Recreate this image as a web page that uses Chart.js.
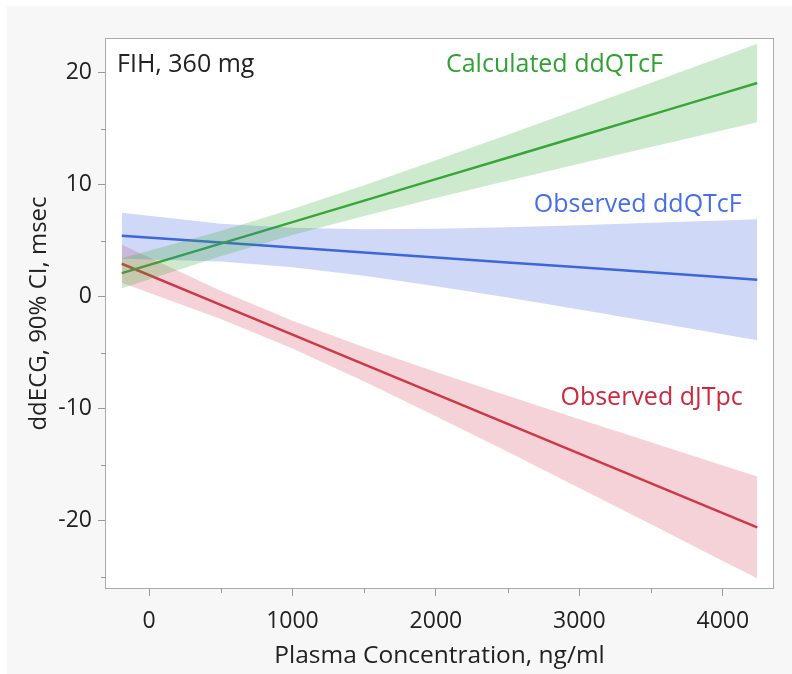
<!DOCTYPE html>
<html>
<head>
<meta charset="utf-8">
<script src="https://cdn.jsdelivr.net/npm/chart.js@4.4.1/dist/chart.umd.min.js"></script>
<style>
  html, body { margin: 0; padding: 0; background: #ffffff; }
  #wrap { position: absolute; left: 0; top: 0; width: 792px; height: 674px; }
</style>
</head>
<body>
<div id="wrap"><canvas id="c" width="792" height="674"></canvas></div>
<script>
// ---- data ----
const conc = [-190, 500, 1000, 1500, 2000, 2500, 3000, 3500, 4000, 4240];

const calcQTcF      = [2.10, 4.74, 6.66, 8.57, 10.49, 12.40, 14.32, 16.23, 18.15, 19.07];
const calcQTcFUpper = [3.44, 5.86, 7.82, 9.94, 12.17, 14.45, 16.77, 19.09, 21.44, 22.57];
const calcQTcFLower = [0.76, 3.62, 5.50, 7.20, 8.81, 10.35, 11.87, 13.37, 14.86, 15.57];

const obsQTcF      = [5.44, 4.83, 4.39, 3.95, 3.50, 3.06, 2.62, 2.18, 1.73, 1.52];
const obsQTcFUpper = [7.49, 6.52, 6.15, 6.03, 6.07, 6.20, 6.38, 6.59, 6.81, 6.92];
const obsQTcFLower = [3.39, 3.14, 2.63, 1.87, 0.93, -0.08, -1.14, -2.23, -3.35, -3.88];

const obsJTpc      = [2.94, -0.73, -3.38, -6.04, -8.70, -11.35, -14.01, -16.66, -19.32, -20.59];
const obsJTpcUpper = [4.64, 0.52, -2.14, -4.52, -6.73, -8.85, -10.94, -13.00, -15.06, -16.04];
const obsJTpcLower = [1.24, -1.98, -4.62, -7.56, -10.67, -13.85, -17.08, -20.32, -23.58, -25.14];

const xMajorTicks = [0, 1000, 2000, 3000, 4000];
const xMinorTicks = [500, 1500, 2500, 3500];
const yMajorTicks = [-20, -10, 0, 10, 20];
const yMinorTicks = [-25, -15, -5, 5, 15];

const labelTexts = ['FIH, 360 mg', 'Calculated ddQTcF', 'Observed ddQTcF', 'Observed dJTpc'];
const labelX     = [-223, 3582, 4132, 4139];
const labelY     = [20.05, 20.05, 7.58, -9.71];
const labelAlign = ['left', 'right', 'right', 'right'];
const labelColor = ['#222222', 'rgb(50,160,50)', 'rgb(70,110,235)', 'rgb(205,40,60)'];

const xTitle = 'Plasma Concentration, ng/ml';
const yTitle = 'ddECG, 90% CI, msec';

// ---- helpers ----
const pts = (ys) => conc.map((x, i) => ({ x: x, y: ys[i] }));
const FONT = '"Open Sans", "Noto Sans", sans-serif';

function band(upper, lower, color) {
  return [
    { data: pts(upper), borderWidth: 0, pointRadius: 0, fill: '+1', backgroundColor: color, borderColor: 'transparent', tension: 0 },
    { data: pts(lower), borderWidth: 0, pointRadius: 0, fill: false, borderColor: 'transparent', tension: 0 }
  ];
}
function line(vals, color) {
  return { data: pts(vals), borderWidth: 2.5, pointRadius: 0, fill: false, borderColor: color, tension: 0 };
}

const bgPlugin = {
  id: 'bg',
  beforeDraw(chart) {
    const ctx = chart.ctx, a = chart.chartArea;
    ctx.save();
    ctx.fillStyle = '#ffffff';
    ctx.fillRect(0, 0, chart.width, chart.height);
    ctx.fillStyle = '#f7f7f7';
    ctx.fillRect(7, 6, chart.width - 7, chart.height - 6);
    ctx.fillStyle = '#ffffff';
    ctx.fillRect(a.left, a.top, a.right - a.left, a.bottom - a.top);
    ctx.restore();
  },
  afterDraw(chart) {
    const ctx = chart.ctx, a = chart.chartArea;
    const xs = chart.scales.x, ys = chart.scales.y;
    ctx.save();
    ctx.strokeStyle = '#aaaaaa';
    ctx.lineWidth = 1;
    ctx.strokeRect(Math.round(a.left) - 0.5, Math.round(a.top) - 0.5,
                   Math.round(a.right - a.left) + 1, Math.round(a.bottom - a.top) + 1);
    ctx.strokeStyle = '#999999';
    ctx.beginPath();
    xMinorTicks.forEach(v => {
      const px = Math.round(xs.getPixelForValue(v)) + 0.5;
      ctx.moveTo(px, a.bottom); ctx.lineTo(px, a.bottom + 5);
    });
    yMinorTicks.forEach(v => {
      const py = Math.round(ys.getPixelForValue(v)) + 0.5;
      ctx.moveTo(a.left, py); ctx.lineTo(a.left - 5, py);
    });
    ctx.stroke();
    ctx.restore();
  }
};

const labelPlugin = {
  id: 'labels',
  afterDatasetsDraw(chart) {
    const ctx = chart.ctx;
    const xs = chart.scales.x, ys = chart.scales.y;
    ctx.save();
    ctx.font = '25px ' + FONT;
    ctx.textBaseline = 'alphabetic';
    labelTexts.forEach((t, i) => {
      ctx.fillStyle = labelColor[i];
      ctx.textAlign = labelAlign[i];
      ctx.fillText(t, xs.getPixelForValue(labelX[i]), ys.getPixelForValue(labelY[i]));
    });
    ctx.restore();
  }
};

new Chart(document.getElementById('c'), {
  type: 'line',
  data: {
    datasets: [
      ...band(calcQTcFUpper, calcQTcFLower, 'rgba(60,170,60,0.25)'),
      ...band(obsQTcFUpper, obsQTcFLower, 'rgba(65,105,225,0.25)'),
      ...band(obsJTpcUpper, obsJTpcLower, 'rgba(210,60,80,0.23)'),
      line(calcQTcF, 'rgb(55,165,55)'),
      line(obsQTcF, 'rgb(60,100,220)'),
      line(obsJTpc, 'rgb(205,55,70)')
    ]
  },
  options: {
    responsive: false,
    animation: false,
    devicePixelRatio: 1,
    layout: { padding: { left: 0, right: 19, top: 39, bottom: 0 } },
    plugins: { legend: { display: false }, tooltip: { enabled: false }, filler: { propagate: false } },
    scales: {
      x: {
        type: 'linear',
        min: -300, max: 4350,
        afterFit(s) { s.height = 86; },
        afterBuildTicks(s) { s.ticks = xMajorTicks.map(v => ({ value: v })); },
        border: { display: false },
        grid: { drawOnChartArea: false, drawTicks: true, tickLength: 8, tickColor: '#999999' },
        ticks: { color: '#222222', font: { family: FONT, size: 23 }, padding: 12, maxRotation: 0, autoSkip: false,
                 callback: (v) => String(v) },
        title: { display: true, text: xTitle, color: '#222222', font: { family: FONT, size: 24.5 }, padding: { top: 0, bottom: 3 } }
      },
      y: {
        type: 'linear',
        min: -26, max: 23,
        afterFit(s) { s.width = 106; },
        afterBuildTicks(s) { s.ticks = yMajorTicks.map(v => ({ value: v })); },
        border: { display: false },
        grid: { drawOnChartArea: false, drawTicks: true, tickLength: 8, tickColor: '#999999' },
        ticks: { color: '#222222', font: { family: FONT, size: 23 }, padding: 6, autoSkip: false,
                 callback: (v) => String(v) },
        title: { display: true, text: yTitle, color: '#222222', font: { family: FONT, size: 24 }, padding: { top: 25, bottom: 0 } }
      }
    }
  },
  plugins: [bgPlugin, labelPlugin]
});
</script>
</body>
</html>
